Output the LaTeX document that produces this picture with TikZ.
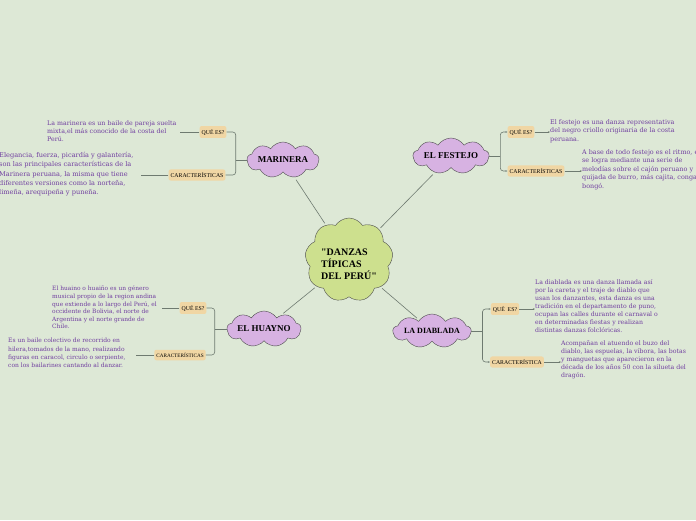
\documentclass[tikz,border=0pt]{standalone}
\usepackage{fontspec}
\setmainfont{Liberation Serif}
\newfontfamily\notefont{DejaVu Serif}
\usetikzlibrary{arrows.meta,shapes.symbols,positioning}
\definecolor{bgcol}{RGB}{221,232,214}
\definecolor{centrecol}{RGB}{205,224,142}
\definecolor{topiccol}{RGB}{215,178,226}
\definecolor{tagcol}{RGB}{240,214,164}
\definecolor{notecol}{RGB}{112,62,160}
\definecolor{linkcol}{RGB}{110,122,112}
\tikzset{
  topic/.style={cloud, cloud puffs=9, cloud puff arc=115, cloud ignores aspect, draw=black!70,
    fill=topiccol, inner sep=0pt, font=\bfseries\fontsize{9}{11}\selectfont},
  tag/.style={fill=tagcol, rounded corners=2pt, inner xsep=2pt, inner ysep=3pt,
    font=\fontsize{5.8}{7}\selectfont},
  note/.style={anchor=north west, inner sep=0pt, align=left, text=notecol,
    font=\notefont\fontsize{6}{7.8}\selectfont},
  link/.style={draw=linkcol, line width=0.6pt},
  fork/.style={link, rounded corners=3pt},
}
\begin{document}
\begin{tikzpicture}[x=1pt,y=-1pt]
\fill[bgcol] (0,0) rectangle (696,520);
\useasboundingbox (0,0) rectangle (696,520);
% centre
\node[cloud, cloud puffs=9, cloud puff arc=115, cloud ignores aspect, draw=black!70, fill=centrecol,
  minimum width=88pt, minimum height=84pt, inner sep=0pt] (dan) at (349,260) {};
\node[align=left, font=\bfseries\fontsize{10}{12}\selectfont] at (349,264)
  {\textquotedbl DANZAS\\TÍPICAS\\DEL PERÚ\textquotedbl};
% marinera
\node[topic, minimum width=72pt, minimum height=36pt] (mar) at (283,160) {MARINERA};
\node[tag] (marq) at (213,132) {QUÉ ES?};
\node[tag] (marc) at (197,175) {CARACTERÍSTICAS};
\draw[link] (mar.west) -- ++(-11,0) coordinate (marj);
\draw[fork] (marq.east) -| (marj) |- (marc.east);
\node[note, font=\notefont\fontsize{6.3}{7.8}\selectfont] (marqt) at (47,121) {La marinera es un baile de pareja suelta\\
  mixta,el más conocido de la costa del\\ Perú.};
\node[note, font=\notefont\fontsize{6.6}{9.3}\selectfont] (marct) at (-1,152)
  {Elegancia, fuerza, picardía y galantería,\\ son las principales características de la\\
  Marinera peruana, la misma que tiene\\ diferentes versiones como la norteña,\\
  limeña, arequipeña y puneña.};
\draw[link, shorten >=3pt] (marq.west) -- (marq.west -| marqt.east);
\draw[link, shorten >=7pt] (marc.west) -- (marc.west -| marct.east);
% el festejo
\node[topic, minimum width=76pt, minimum height=36pt] (fes) at (451,156) {EL FESTEJO};
\node[tag] (fesq) at (521,132) {QUÉ ES?};
\node[tag] (fesc) at (536,171) {CARACTERÍSTICAS};
\draw[link] (fes.east) -- ++(11,0) coordinate (fesj);
\draw[fork,-{Stealth[length=2pt]}] (fesj) |- (fesq.west);
\draw[fork,-{Stealth[length=2pt]}] (fesj) |- (fesc.west);
\node[note, font=\notefont\fontsize{6.4}{8.5}\selectfont] (fesqt) at (550,119)
  {El festejo es una danza representativa\\ del negro criollo originaria de la costa\\ peruana.};
\node[note, font=\notefont\fontsize{6.4}{8.5}\selectfont] (fesct) at (582,149)
  {A base de todo festejo es el ritmo, el\\ se logra mediante una serie de\\
  melodías sobre el cajón peruano y\\ quijada de burro, más cajita, conga\\ bongó.};
\draw[link,-{Stealth[length=2pt]}] (fesq.east) -- (fesq.east -| fesqt.west);
\draw[link,-{Stealth[length=2pt]}] (fesc.east) -- (fesc.east -| fesct.west);
% el huayno
\node[topic, minimum width=74pt, minimum height=36pt] (hua) at (264,329) {EL HUAYNO};
\node[tag] (huaq) at (193,308) {QUÉ ES?};
\node[tag, font=\fontsize{5.2}{6}\selectfont] (huac) at (180,355) {CARACTERÍSTICAS};
\draw[link] (hua.west) -- ++(-12,0) coordinate (huaj);
\draw[fork] (huaq.east) -| (huaj) |- (huac.east);
\node[note, font=\notefont\fontsize{5.9}{7.6}\selectfont] (huaqt) at (52,286) {El huaino o huaiño es un género\\
  musical propio de la region andina\\ que extiende a lo largo del Perú, el\\
  occidente de Bolivia, el norte de\\ Argentina y el norte grande de\\ Chile.};
\node[note, font=\notefont\fontsize{6}{8.4}\selectfont] (huact) at (8,338)
  {Es un baile colectivo de recorrido en\\ hilera,tomados de la mano, realizando\\
  figuras en caracol, circulo o serpiente,\\ con los bailarines cantando al danzar.};
\draw[link, shorten >=5pt] (huaq.west) -- (huaq.west -| huaqt.east);
\draw[link, shorten >=10pt] (huac.west) -- (huac.west -| huact.east);
% la diablada
\node[topic, minimum width=78pt, minimum height=34pt, font=\bfseries\fontsize{8}{10}\selectfont] (dia) at (432,331) {LA DIABLADA};
\node[tag] (diaq) at (505,309) {QUÉ~~ES?};
\node[tag] (diac) at (517,362) {CARACTERÍSTICA};
\draw[link] (dia.east) -- ++(11,0) coordinate (diaj);
\draw[fork,-{Stealth[length=2pt]}] (diaj) |- (diaq.west);
\draw[fork,-{Stealth[length=2pt]}] (diaj) |- (diac.west);
\node[note, font=\notefont\fontsize{6.2}{8}\selectfont] (diaqt) at (535,279)
  {La diablada es una danza llamada así\\ por la careta y el traje de diablo que\\
  usan los danzantes, esta danza es una\\ tradición en el departamento de puno,\\
  ocupan las calles durante el carnaval o\\ en determinadas fiestas y realizan\\
  distintas danzas folclóricas.};
\node[note, font=\notefont\fontsize{6.2}{8}\selectfont] (diact) at (561,340)
  {Acompañan el atuendo el buzo del\\ diablo, las espuelas, la víbora, las botas\\
  y manguetas que aparecieron en la\\ década de los años 50 con la silueta del\\ dragón.};
\draw[link,-{Stealth[length=2pt]}] (diaq.east) -- (diaq.east -| diaqt.west);
\draw[link,-{Stealth[length=2pt]}] (diac.east) -- (diac.east -| diact.west);
% spokes
\draw[link, shorten <=2pt, shorten >=3pt] (dan) -- (mar);
\draw[link, shorten <=2pt, shorten >=3pt] (dan) -- (fes);
\draw[link, shorten <=2pt, shorten >=3pt] (dan) -- (hua);
\draw[link, shorten <=2pt, shorten >=3pt] (dan) -- (dia);
\end{tikzpicture}
\end{document}
